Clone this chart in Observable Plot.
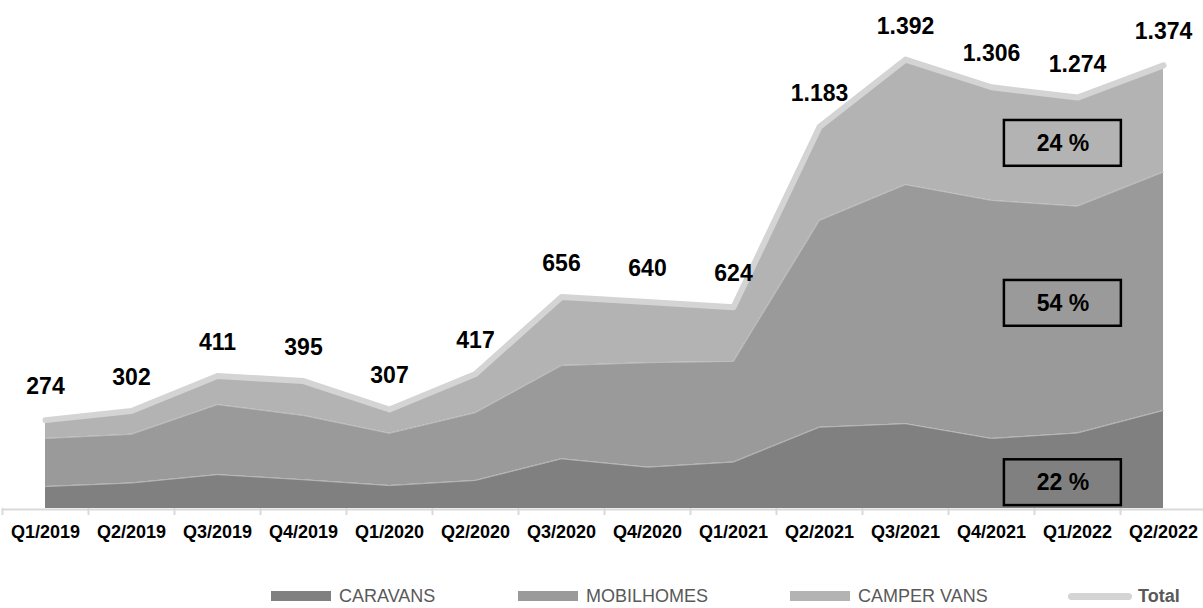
<!DOCTYPE html>
<html><head><meta charset="utf-8">
<script src="https://cdn.jsdelivr.net/npm/d3@7"></script>
<script src="https://cdn.jsdelivr.net/npm/@observablehq/plot@0.6"></script>
<style>
body{margin:0;background:#fff;font-family:"Liberation Sans",Arial,sans-serif;}
#wrap{position:relative;width:1203px;height:608px;overflow:hidden;background:#fff;}
.leg{position:absolute;top:585px;display:flex;align-items:center;font-size:18px;color:#595959;line-height:22px;white-space:nowrap;}
.sw{width:60px;height:10px;margin-right:8px;}
.swl{width:64px;height:7px;border-radius:4px;margin-right:6px;}
</style></head><body>
<div id="wrap"><div id="chart"></div><div id="legend"></div></div>
<script>
const quarters = ["Q1/2019","Q2/2019","Q3/2019","Q4/2019","Q1/2020","Q2/2020","Q3/2020","Q4/2020","Q1/2021","Q2/2021","Q3/2021","Q4/2021","Q1/2022","Q2/2022"];
const caravans   = [68, 79, 105, 89, 71, 87, 154, 128, 144, 252, 263, 217, 234, 304];
const mobilhomes = [149, 151, 217, 199, 162, 210, 289, 324, 312, 641, 741, 738, 703, 739];
const camperVans = [57, 72, 89, 107, 74, 120, 213, 188, 168, 290, 388, 351, 337, 331];
const totals     = [274, 302, 411, 395, 307, 417, 656, 640, 624, 1183, 1392, 1306, 1274, 1374];
const seriesNames = ["CARAVANS", "MOBILHOMES", "CAMPER VANS"];
const seriesColors = ["#808080", "#9a9a9a", "#b3b3b3"];
const totalName = "Total";
const totalColor = "#d4d4d4";

// long table for the stacked areas
const rows = [];
[caravans, mobilhomes, camperVans].forEach((arr, s) =>
  arr.forEach((v, i) => rows.push({i, series: seriesNames[s], value: v})));
const totalRows = totals.map((t, i) => ({i, total: t}));

// share of each series in the last quarter (boxes)
const last = quarters.length - 1;
const shareOf = arr => Math.round(arr[last] / totals[last] * 100) + " %";
const boxLayout = [
  {label: shareOf(camperVans), x1: 11.15, x2: 12.51, y1: 1061, y2: 1203},
  {label: shareOf(mobilhomes), x1: 11.15, x2: 12.51, y1: 565, y2: 707},
  {label: shareOf(caravans),   x1: 11.15, x2: 12.51, y1: 9,   y2: 151}
];

const fmt = d3.formatLocale({decimal: ",", thousands: ".", grouping: [3], currency: ["", "€"]}).format(",");
const font = '"Liberation Sans", Arial, Helvetica, sans-serif';

const chart = Plot.plot({
  width: 1203, height: 545,
  marginLeft: 2, marginRight: 0, marginTop: 0, marginBottom: 37,
  style: {fontFamily: font, background: "white", overflow: "visible"},
  x: {domain: [-0.5, quarters.length - 0.535], label: null},
  y: {domain: [0, 1575], axis: null},
  color: {domain: seriesNames, range: seriesColors},
  marks: [
    Plot.areaY(rows, {x: "i", y: "value", z: "series", fill: "series"}),
    Plot.lineY(rows, Plot.stackY2({x: "i", y: "value", z: "series", stroke: "#c4c4c4", strokeWidth: 0.8})),
    Plot.ruleY([0], {stroke: "#d9d9d9", strokeWidth: 2, dy: 1}),
    Plot.axisX(d3.range(quarters.length).map(k => k - 0.5), {
      tickSize: 7, tickFormat: () => "", stroke: "#d9d9d9", strokeWidth: 2, label: null
    }),
    Plot.axisX(d3.range(quarters.length), {
      tickSize: 0, tickPadding: 17, tickFormat: i => quarters[i],
      fontSize: 18, fontWeight: "bold", fill: "black", label: null
    }),
    Plot.lineY(totalRows, {x: "i", y: "total", stroke: totalColor, strokeWidth: 6,
      strokeLinecap: "round", strokeLinejoin: "round"}),
    Plot.text(totalRows, {x: "i", y: "total", text: d => fmt(d.total), dy: -26,
      lineAnchor: "bottom", fontSize: 23, fontWeight: "bold", fill: "black"}),
    Plot.rect(boxLayout, {x1: "x1", x2: "x2", y1: "y1", y2: "y2", fill: "none",
      stroke: "black", strokeWidth: 2.5}),
    Plot.text(boxLayout, {x: d => (d.x1 + d.x2) / 2, y: d => (d.y1 + d.y2) / 2, text: "label",
      fontSize: 23, fontWeight: "bold", fill: "black"})
  ]
});
document.getElementById("chart").appendChild(chart);

// legend
const legendItems = [
  {label: seriesNames[0], color: seriesColors[0], left: 271, line: false},
  {label: seriesNames[1], color: seriesColors[1], left: 518, line: false},
  {label: seriesNames[2], color: seriesColors[2], left: 790, line: false},
  {label: totalName, color: totalColor, left: 1068, line: true}
];
const leg = document.getElementById("legend");
legendItems.forEach(it => {
  const d = document.createElement("div");
  d.className = "leg";
  d.style.left = it.left + "px";
  const sw = document.createElement("span");
  sw.className = it.line ? "swl" : "sw";
  sw.style.background = it.color;
  const t = document.createElement("span");
  t.textContent = it.label;
  if (it.line) t.style.fontWeight = "bold";
  d.appendChild(sw); d.appendChild(t);
  leg.appendChild(d);
});
</script>
</body></html>
